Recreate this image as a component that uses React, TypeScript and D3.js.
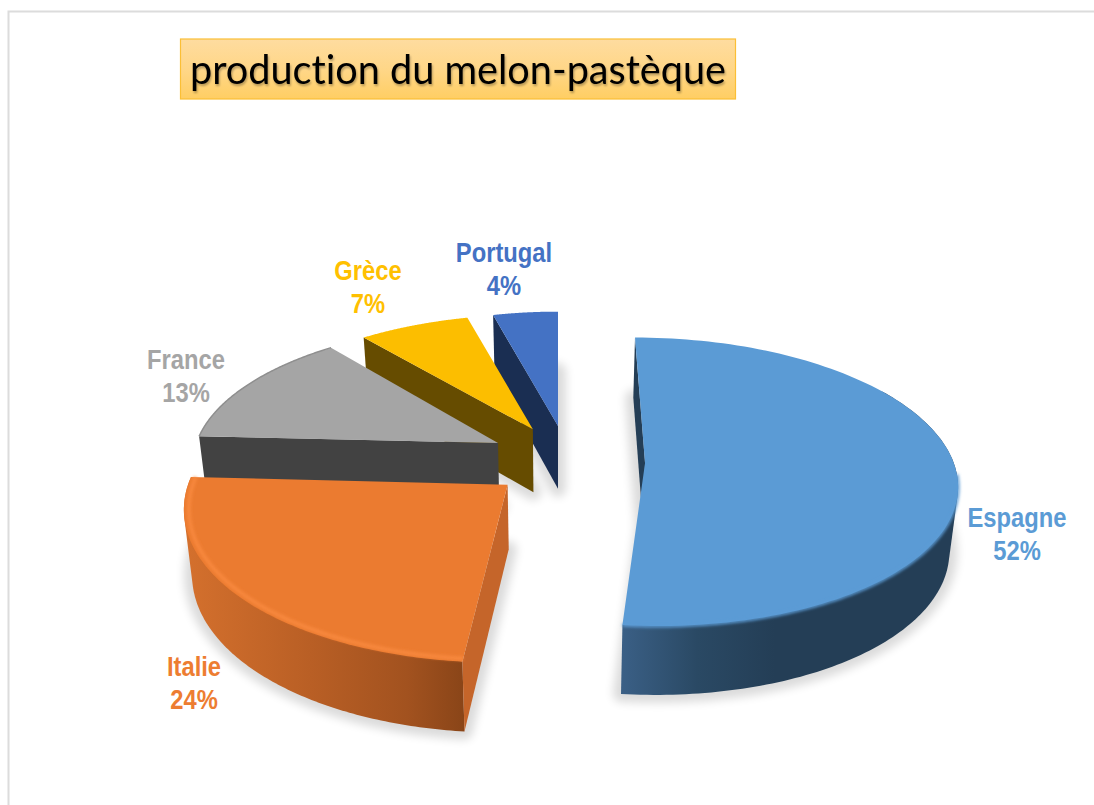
import React from "react";
import * as d3 from "d3";

const titleText = "production du melon-pastèque";
const countries = ["Espagne", "Italie", "France", "Grèce", "Portugal"];
const shares = [51.6, 24.2, 13.4, 6.7, 4.1];
const topColors = ["#5b9bd5", "#eb7b30", "#a5a5a5", "#fcbe00", "#4472c4"];
const labelColors = ["#5b9bd5", "#ed7d31", "#a5a5a5", "#ffc000", "#4472c4"];
const edgeColors = ["#243e56", "#c5652a", "#424242", "#664c00", "#1a2e52"];
// explosion of each slice on the tilted plane, in pie radii
const explodeX = [0.282, -0.16, -0.198, -0.084, 0];
const explodeV = [0, -0.15, 0.143, 0.245, 0.27];
const radiusX = [1, 1.015, 0.995, 1, 0.955];
const radiusV = [1, 1.04, 0.985, 0.97, 0.97];
const labelX = [1017, 194, 186, 368, 504];
const labelY = [527, 676, 369, 280, 262];
const drawOrder = [4, 3, 2, 0, 1];

const VX = 558;
const VY = -624;
const persp = d3.scaleLinear().domain([0, 1]).range([9.2e-4, 10.4e-4]);
const project = (X: number, V: number): [number, number] => {
  const w = persp(V);
  return [VX + (X * 0.284) / w, VY + 1 / w];
};
const depth = (y: number) => 64 + (y - 463) * 0.03;
const bottomX = d3.scaleLinear().domain([VX, VX + 100]).range([VX, VX + 97.8]);
const drop = ([x, y]: [number, number]): [number, number] => [bottomX(x), y + depth(y)];
const line = d3.line<[number, number]>().x((d) => d[0]).y((d) => d[1]);

const pie = d3.pie<number>().sort(null).value((d) => d);
const arcs = pie(shares);

const rimPoint = (i: number, a: number, k = 1): [number, number] =>
  project(explodeX[i] + radiusX[i] * k * Math.sin(a), explodeV[i] + radiusV[i] * k * Math.cos(a));
const rim = (i: number, a0: number, a1: number, k = 1) =>
  d3.range(0, 121).map((t) => rimPoint(i, a0 + ((a1 - a0) * t) / 120, k));
const apex = (i: number) => project(explodeX[i], explodeV[i]);
const closed = (pts: [number, number][]) => (line(pts) as string) + "Z";

export default function App() {
  const fmt = d3.format(".0f");
  return (
    <svg
      width={1094}
      height={805}
      viewBox="0 0 1094 805"
      style={{ position: "absolute", left: 0, top: 0, display: "block", background: "#fff" }}
    >
      <defs>
        <filter id="shadow" x="-20%" y="-20%" width="140%" height="140%">
          <feGaussianBlur stdDeviation="5" />
        </filter>
        <filter id="bev" x="-10%" y="-10%" width="120%" height="120%">
          <feGaussianBlur stdDeviation="1.6" />
        </filter>
        <filter id="soft" x="-10%" y="-10%" width="120%" height="120%">
          <feGaussianBlur stdDeviation="0.5" />
        </filter>
        <filter id="titleShadow" x="-5%" y="-20%" width="110%" height="140%">
          <feGaussianBlur in="SourceAlpha" stdDeviation="1.2" result="b" />
          <feOffset in="b" dx="1" dy="2" result="o" />
          <feComponentTransfer in="o" result="c">
            <feFuncA type="linear" slope="0.3" />
          </feComponentTransfer>
          <feMerge>
            <feMergeNode in="c" />
            <feMergeNode in="SourceGraphic" />
          </feMerge>
        </filter>
        <linearGradient id="titleFill" x1="0" y1="0" x2="0" y2="1">
          <stop offset="0" stopColor="#fedca0" />
          <stop offset="0.55" stopColor="#ffd685" />
          <stop offset="1" stopColor="#ffce63" />
        </linearGradient>
        <linearGradient id="sideEsp" gradientUnits="userSpaceOnUse" x1="623" y1="0" x2="960" y2="0">
          <stop offset="0" stopColor="#3a5f85" />
          <stop offset="0.22" stopColor="#2a4964" />
          <stop offset="0.45" stopColor="#243e56" />
          <stop offset="1" stopColor="#243e56" />
        </linearGradient>
        <linearGradient id="sideIta" gradientUnits="userSpaceOnUse" x1="185" y1="0" x2="463" y2="0">
          <stop offset="0" stopColor="#d4702d" />
          <stop offset="0.45" stopColor="#b95f25" />
          <stop offset="0.8" stopColor="#a2521f" />
          <stop offset="1" stopColor="#8a4518" />
        </linearGradient>
      </defs>

      <path d="M1094,11.5H8.5V805" fill="none" stroke="#dcdcdc" strokeWidth={2} />

      <rect x={180.5} y={39} width={555} height={60} fill="url(#titleFill)" stroke="#fbbf36" strokeWidth={1.2} />
      <text
        x={190}
        y={84}
        fontFamily="Lato, 'Open Sans', sans-serif"
        fontSize={40}
        fill="#000"
        textLength={536}
        lengthAdjust="spacingAndGlyphs"
        filter="url(#titleShadow)"
        style={{ fontVariantLigatures: "none" }}
      >
        {titleText}
      </text>

      <g filter="url(#shadow)" opacity={0.14}>
        {arcs.map((a, i) => {
          const pts: [number, number][] = [apex(i), ...rim(i, a.startAngle, a.endAngle)].map((p) => drop(p));
          return <path key={i} d={closed(pts)} fill="#000" stroke="#000" strokeWidth={16} strokeLinejoin="round" />;
        })}
      </g>

      {drawOrder.map((i) => {
        const a = arcs[i];
        const outer = rim(i, a.startAngle, a.endAngle);
        const top = closed([apex(i), ...outer]);
        const A = apex(i);
        const first = outer[0];
        // the curved wall is the hull swept by the visible part of the rim going down
        const visibleRim = i === 0 ? rim(0, 1, a.endAngle) : outer;
        const hull = d3.polygonHull([...visibleRim, ...visibleRim.map((p) => drop(p))] as [number, number][]);
        const wall = <path d={closed(hull as [number, number][])} fill={i === 0 ? "url(#sideEsp)" : "url(#sideIta)"} />;
        const flat = <path d={closed([first, A, drop(A), drop(first)])} fill={edgeColors[i]} />;
        return (
          <g key={i}>
            {i === 0 || i === 1 ? wall : null}
            {flat}
            <path d={top} fill={topColors[i]} />
            {i === 0 && (
              <path
                d={line(rim(0, 1.65, a.endAngle)) as string}
                fill="none"
                stroke={topColors[0]}
                strokeWidth={3}
                filter="url(#bev)"
              />
            )}
            {i === 1 && (
              <path
                d={line(rim(1, a.startAngle, a.endAngle, 0.985)) as string}
                fill="none"
                stroke="#f98a3f"
                strokeWidth={4}
                opacity={0.85}
                filter="url(#bev)"
              />
            )}
            {i === 2 && (
              <path d={line(outer) as string} fill="none" stroke="#8f8f8f" strokeWidth={1.5} filter="url(#soft)" />
            )}
          </g>
        );
      })}

      {countries.map((c, i) => (
        <text
          key={c}
          transform={`translate(${labelX[i]},${labelY[i]}) scale(0.88,1)`}
          textAnchor="middle"
          fontFamily="'Liberation Sans', Arial, sans-serif"
          fontWeight="bold"
          fontSize={27}
          fill={labelColors[i]}
        >
          <tspan x={0}>{c}</tspan>
          <tspan x={0} dy={33.5}>
            {fmt(shares[i])}%
          </tspan>
        </text>
      ))}
    </svg>
  );
}
